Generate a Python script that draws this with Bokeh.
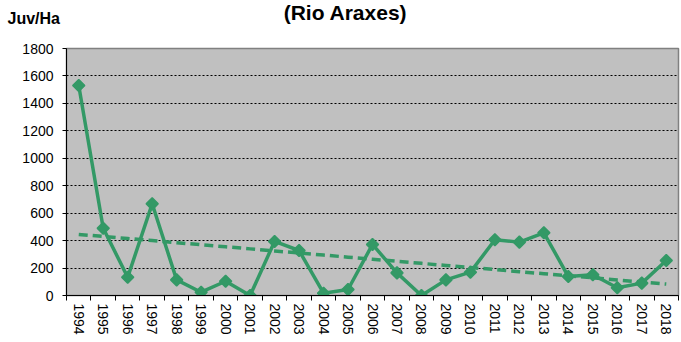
import math
import numpy as np
from bokeh.plotting import figure
from bokeh.models import (FactorRange, Range1d, LinearAxis, FixedTicker, Grid, Label)
from bokeh.embed import file_html
from bokeh.resources import INLINE

# ---- data ----
years = ["1994", "1995", "1996", "1997", "1998", "1999", "2000", "2001",
         "2002", "2003", "2004", "2005", "2006", "2007", "2008", "2009",
         "2010", "2011", "2012", "2013", "2014", "2015", "2016", "2017", "2018"]
density = [1530, 490, 133, 668, 114, 24, 104, 0, 394, 328, 17, 44, 372,
           165, 0, 114, 170, 406, 389, 457, 138, 151, 56, 90, 255]
y_ticks = [0, 200, 400, 600, 800, 1000, 1200, 1400, 1600, 1800]
title_text = "(Rio Araxes)"
y_unit_text = "Juv/Ha"

# linear trend computed from the series
idx = np.arange(len(density))
slope, intercept = np.polyfit(idx, np.array(density, dtype=float), 1)
trend = list(intercept + slope * idx)

GREEN = "#339966"
FONT = "Liberation Sans"

p = figure(width=681, height=342,
           x_range=FactorRange(factors=years, range_padding=0),
           y_range=Range1d(0, 1800),
           output_backend="svg", toolbar_location=None,
           x_axis_type=None, y_axis_type=None,
           min_border_left=66, min_border_right=3,
           min_border_top=48, min_border_bottom=47)
p.background_fill_color = "#C0C0C0"
p.border_fill_color = "white"
p.outline_line_color = "#808080"
p.outline_line_width = 1.5

# y axis
yax = LinearAxis(ticker=FixedTicker(ticks=y_ticks))
yax.major_tick_out = 4
yax.major_tick_in = 0
yax.minor_tick_out = 0
yax.minor_tick_in = 0
yax.axis_line_color = "black"
yax.major_tick_line_color = "black"
yax.major_label_standoff = 9
yax.major_label_text_font = FONT
yax.major_label_text_font_size = "14px"
yax.major_label_text_color = "black"
p.add_layout(yax, "left")

# x axis: labels at category centres (major), ticks at category boundaries (minor)
centres = [i + 0.5 for i in range(len(years))]
bounds = list(range(len(years) + 1))
xax = LinearAxis(ticker=FixedTicker(ticks=centres, minor_ticks=bounds))
xax.major_label_overrides = {c: y for c, y in zip(centres, years)}
xax.major_tick_out = 0
xax.major_tick_in = 0
xax.minor_tick_out = 5
xax.minor_tick_in = 0
xax.axis_line_color = "black"
xax.minor_tick_line_color = "black"
xax.major_label_orientation = "vertical"
xax.major_label_standoff = 3
xax.major_label_text_font = FONT
xax.major_label_text_font_size = "14px"
xax.major_label_text_color = "black"
p.add_layout(xax, "below")

# horizontal grid
grid = Grid(dimension=1, ticker=FixedTicker(ticks=y_ticks[1:-1]))
grid.grid_line_color = "black"
grid.grid_line_dash = "2 2"
grid.grid_line_width = 1
p.add_layout(grid)

# trend line
p.line(years, trend, line_color=GREEN, line_width=3.5, line_dash="9 5")

# series
p.line(years, density, line_color=GREEN, line_width=3.5)
p.scatter(years, density, marker="square", angle=math.pi / 4, size=8.5,
          fill_color=GREEN, line_color=GREEN, line_width=1.5)

# texts
p.add_layout(Label(x=279, y=36, x_units="screen", y_units="screen",
                   text=title_text, text_font=FONT,
                   text_font_size="21px", text_font_style="bold",
                   text_align="center", text_baseline="alphabetic",
                   text_color="black"), "above")
p.add_layout(Label(x=-59, y=7, x_units="screen", y_units="screen",
                   text=y_unit_text, text_font=FONT,
                   text_font_size="16px", text_font_style="bold",
                   text_align="left", text_baseline="alphabetic",
                   text_color="black"), "above")

open("out.html", "w").write(file_html(p, INLINE))
